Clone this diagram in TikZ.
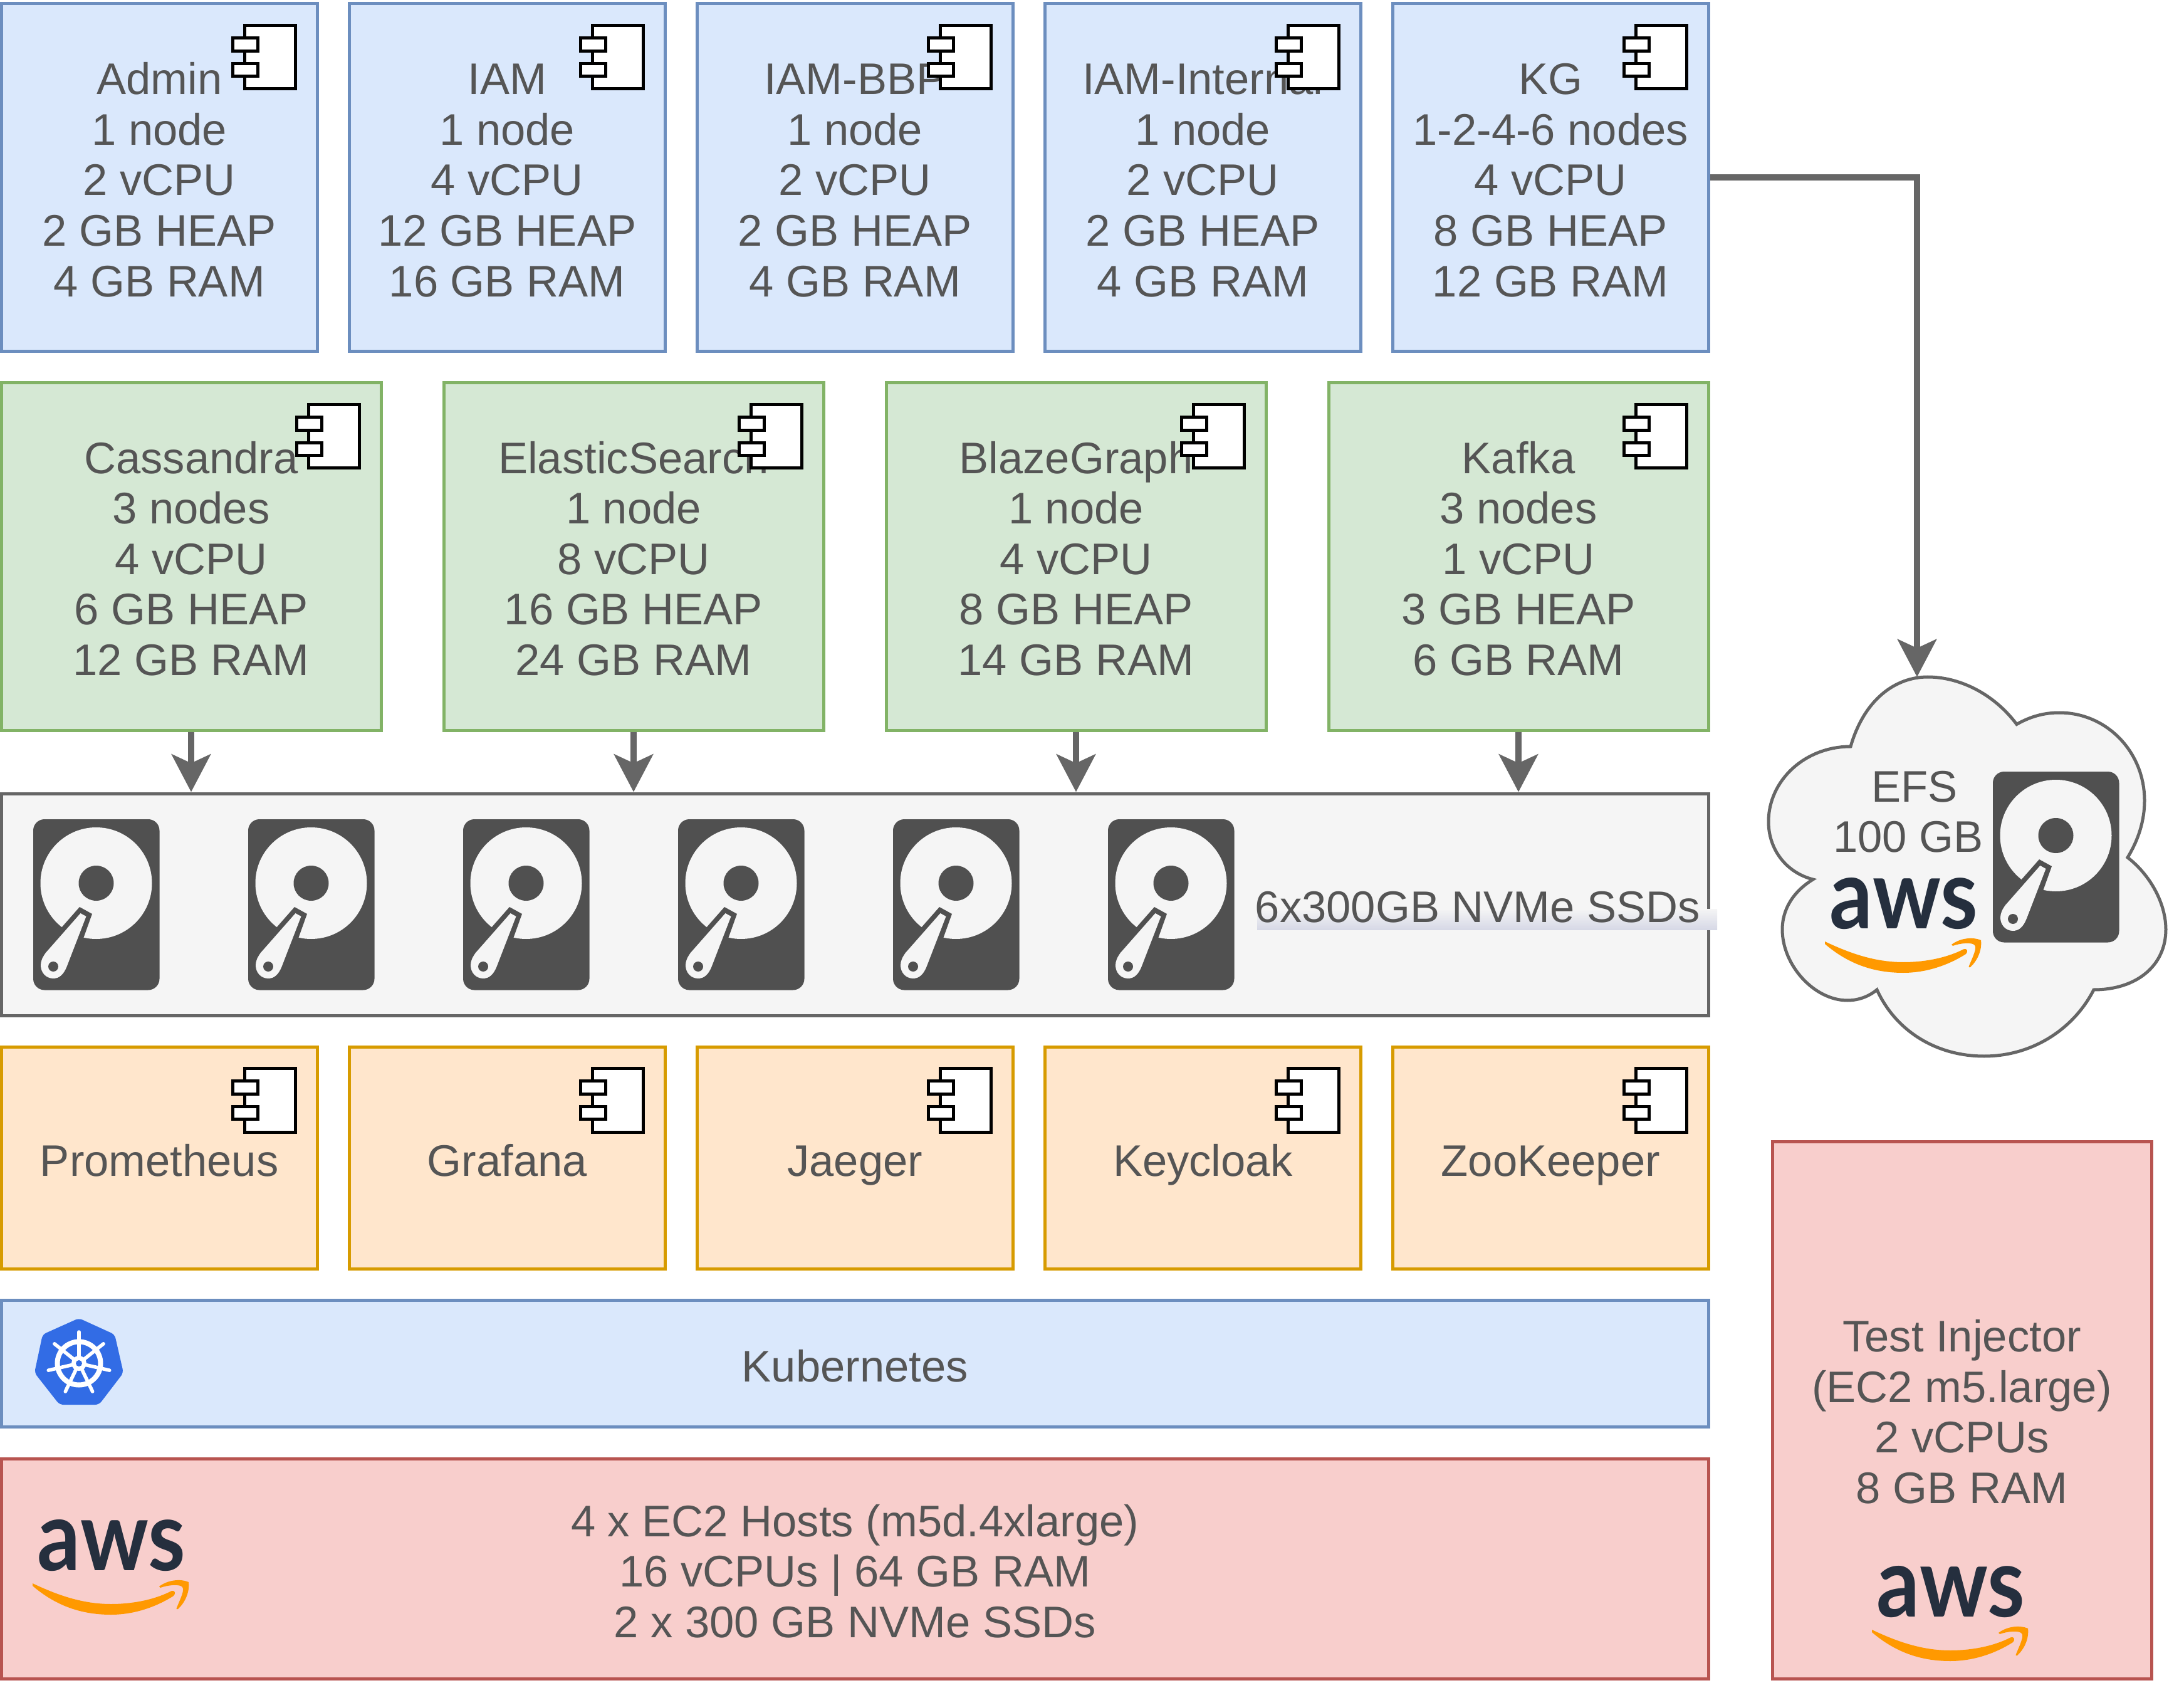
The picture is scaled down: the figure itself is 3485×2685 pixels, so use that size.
\documentclass[tikz,border=0pt]{standalone}
\usepackage{fontspec}
\usepackage{tikz}
\usetikzlibrary{arrows.meta}
\setmainfont{Liberation Sans}
\newfontfamily\awsfont{Lato}

\definecolor{labelgray}{HTML}{555555}
\definecolor{linegray}{HTML}{666666}
\definecolor{backgray}{HTML}{F5F5F5}
\definecolor{diskgray}{HTML}{505050}
\definecolor{glowgray}{HTML}{D6D8E6}
\definecolor{backblue}{HTML}{DAE8FC}
\definecolor{lineblue}{HTML}{6C8EBF}
\definecolor{backgreen}{HTML}{D5E8D4}
\definecolor{linegreen}{HTML}{82B366}
\definecolor{backorange}{HTML}{FFE6CC}
\definecolor{lineorange}{HTML}{D79B00}
\definecolor{backred}{HTML}{F8CECC}
\definecolor{linered}{HTML}{B85450}
\definecolor{awsnavy}{HTML}{252F3E}
\definecolor{awsorange}{HTML}{FF9900}
\definecolor{kubeblue}{HTML}{326CE5}

\tikzset{
    box/.style={shape=rectangle,draw,line width=1.25pt,text=labelgray,align=center,text depth=0pt,
        font=\fontsize{17.65}{20.15}\selectfont},
    service/.style={box,draw=lineblue,fill=backblue,minimum width=125.9pt,minimum height=138.75pt,text height=94.8pt},
    datastore/.style={box,draw=linegreen,fill=backgreen,minimum width=151.5pt,minimum height=138.5pt,text height=94.8pt},
    support/.style={box,draw=lineorange,fill=backorange,minimum width=125.9pt,minimum height=88.5pt,
        text height=16pt,text depth=1.5pt},
    wide/.style={box,minimum width=680.9pt},
    plain/.style={text=labelgray,inner sep=0pt,align=center,font=\fontsize{17.65}{20.15}\selectfont},
    flow/.style={-{Stealth[length=15pt,width=15.5pt,inset=3.5pt]},draw=linegray,line width=2.5pt},
    component/.pic={
        \draw[black,fill=white,line width=1.25pt] (-118,37) rectangle (-37.5,138.5);
        \draw[black,fill=white,line width=1.25pt] (-137.5,57) rectangle (-97.5,78);
        \draw[black,fill=white,line width=1.25pt] (-137.5,98) rectangle (-97.5,118);
    },
    hdd/.pic={
        \fill[diskgray,rounded corners=4.5pt] (0,0) rectangle (201.5,272.5);
        \fill[backgray] (100.5,102) circle (89);
        \fill[diskgray] (100.5,102) circle (28);
        \fill[diskgray] (74,140) -- (94,151) -- (70,218) -- (30,190) -- cycle;
        \fill[backgray] (75.5,150) -- (84.5,155) -- (54,234) .. controls (49,247) and (42,254) .. (32,254)
            .. controls (20,254) and (12,244) .. (12,233) .. controls (12,226) and (15,220) .. (20,213) -- cycle;
        \fill[diskgray] (32,235) circle (8);
    },
    awslogo/.pic={
        \node[anchor=base west,inner sep=0pt,xscale=.875,text=awsnavy,font=\fontsize{38.8}{40}\awsfont\bfseries] (-word) at (-3,0) {aws};
        \fill[awsorange] (-10,21) .. controls (30,40) and (70,54) .. (115,54) .. controls (150,54) and (185,47) .. (212,33)
            .. controls (217,32) and (219,37) .. (215,41) .. controls (185,60) and (150,71) .. (115,71)
            .. controls (65,71) and (25,55) .. (-10,25) -- cycle;
        \fill[awsorange] (192,26) .. controls (205,16) and (225,13) .. (239,19) .. controls (241,35) and (233,52) .. (222,62)
            .. controls (219,63) and (219,61) .. (220,60) .. controls (226,45) and (234,30) .. (228,26)
            .. controls (222,22) and (205,24) .. (194,28) -- cycle;
    },
    kube/.pic={
        \fill[kubeblue,rounded corners=1.5pt] (0,-72) -- (57,-46) -- (71,15) -- (32,66) -- (-31,66) -- (-71,15) -- (-58,-46) -- cycle;
        \draw[white,line width=2pt] (0,0) circle (34.5);
        \draw[white,line width=1.4pt,line cap=round] (0,0) -- (-90:50);
        \draw[white,line width=1.4pt,line cap=round] (0,0) -- (-38.57:50);
        \draw[white,line width=1.4pt,line cap=round] (0,0) -- (12.86:50);
        \draw[white,line width=1.4pt,line cap=round] (0,0) -- (64.29:50);
        \draw[white,line width=1.4pt,line cap=round] (0,0) -- (115.71:50);
        \draw[white,line width=1.4pt,line cap=round] (0,0) -- (167.14:50);
        \draw[white,line width=1.4pt,line cap=round] (0,0) -- (218.57:50);
        \fill[white] (0,0) circle (12);
        \fill[kubeblue] (0,0) circle (5);
    }
}

\begin{document}
\begin{tikzpicture}[x=.25pt,y=-.25pt]
        \useasboundingbox (0,0) rectangle (3485,2685);

        \node[service] (Admin)    at (254.25,283.5)  {Admin\\1 node\\2 vCPU\\2 GB HEAP\\4 GB RAM};
        \node[service] (IAM)      at (809.25,283.5)  {IAM\\1 node\\4 vCPU\\12 GB HEAP\\16 GB RAM};
        \node[service] (IAMBBP)   at (1364.25,283.5) {IAM-BBP\\1 node\\2 vCPU\\2 GB HEAP\\4 GB RAM};
        \node[service] (Internal) at (1919.25,283.5) {IAM-Internal\\1 node\\2 vCPU\\2 GB HEAP\\4 GB RAM};
        \node[service] (KG)       at (2474.25,283.5) {KG\\1-2-4-6 nodes\\4 vCPU\\8 GB HEAP\\12 GB RAM};

        \node[datastore] (Cassandra) at (305,888)  {Cassandra\\3 nodes\\4 vCPU\\6 GB HEAP\\12 GB RAM};
        \node[datastore] (Elastic)   at (1011,888) {ElasticSearch\\1 node\\8 vCPU\\16 GB HEAP\\24 GB RAM};
        \node[datastore] (Blaze)     at (1717,888) {BlazeGraph\\1 node\\4 vCPU\\8 GB HEAP\\14 GB RAM};
        \node[datastore] (Kafka)     at (2423,888) {Kafka\\3 nodes\\1 vCPU\\3 GB HEAP\\6 GB RAM};

        \node[wide,draw=linegray,fill=backgray,minimum height=88.5pt] (SSD) at (1364.25,1443) {};
        \shade[top color=backgray,bottom color=glowgray] (2006,1450) rectangle (2740,1483);
        \node[plain,anchor=base] (SSDText) at (2358,1471.7) {6x300GB NVMe SSDs};

        \node[support] (Prometheus) at (254.25,1847)  {Prometheus};
        \node[support] (Grafana)    at (809.25,1847)  {Grafana};
        \node[support] (Jaeger)     at (1364.25,1847) {Jaeger};
        \node[support] (Keycloak)   at (1919.25,1847) {Keycloak};
        \node[support] (ZooKeeper)  at (2474.25,1847) {ZooKeeper};

        \node[wide,draw=lineblue,fill=backblue,minimum height=50.5pt,text height=14.6pt] (Kubernetes) at (1364.25,2175) {Kubernetes};
        \node[wide,draw=linered,fill=backred,minimum height=87.75pt,text height=55pt] (Hosts) at (1364.25,2502.5) {4 x EC2 Hosts (m5d.4xlarge)\\16 vCPUs | 64 GB RAM\\2 x 300 GB NVMe SSDs};
        \node[box,draw=linered,fill=backred,minimum width=151.25pt,minimum height=214.25pt,text height=74.4pt] (Injector) at (3130.5,2249.5) {Test Injector\\(EC2 m5.large)\\2 vCPUs\\8 GB RAM};

        \pic at (Admin.north east) {component};
        \pic at (IAM.north east) {component};
        \pic at (IAMBBP.north east) {component};
        \pic at (Internal.north east) {component};
        \pic at (KG.north east) {component};
        \pic at (Cassandra.north east) {component};
        \pic at (Elastic.north east) {component};
        \pic at (Blaze.north east) {component};
        \pic at (Kafka.north east) {component};
        \pic at (Prometheus.north east) {component};
        \pic at (Grafana.north east) {component};
        \pic at (Jaeger.north east) {component};
        \pic at (Keycloak.north east) {component};
        \pic at (ZooKeeper.north east) {component};

        \pic at (53,1307) {hdd};
        \pic at (396,1307) {hdd};
        \pic at (739,1307) {hdd};
        \pic at (1082,1307) {hdd};
        \pic at (1425,1307) {hdd};
        \pic at (1768,1307) {hdd};

        \pic at (126,2175) {kube};
        \pic (HostsLogo) at (62,2505) {awslogo};
        \pic (InjectorLogo) at (2997,2579) {awslogo};

        \draw[draw=linegray,fill=backgray,line width=1.25pt] (2953,1191)
            .. controls (2975,1115) and (3025,1080) .. (3076,1080)
            .. controls (3125,1080) and (3180,1105) .. (3218,1155.5)
            .. controls (3240,1143) and (3262,1137) .. (3286,1137)
            .. controls (3362,1137) and (3422,1200) .. (3422,1277)
            .. controls (3422,1310) and (3412,1340) .. (3395,1368)
            .. controls (3430,1395) and (3456,1440) .. (3456,1483)
            .. controls (3456,1540) and (3410,1579) .. (3341,1579)
            .. controls (3310,1640) and (3245,1685) .. (3166,1685)
            .. controls (3090,1685) and (3025,1645) .. (2995,1579)
            .. controls (2982,1590) and (2965,1596) .. (2948,1596)
            .. controls (2895,1596) and (2844,1540) .. (2844,1483)
            .. controls (2844,1450) and (2862,1422) .. (2893,1403)
            .. controls (2850,1392) and (2822,1355) .. (2822,1311)
            .. controls (2822,1245) and (2880,1191) .. (2953,1191) -- cycle;
        \coordinate (CloudTop) at (3059,1080);
        \node[plain] (EFS) at (3055,1295) {EFS\\100 GB\kern5pt};
        \pic (EFSLogo) at (2922,1481) {awslogo};
        \pic at (3180,1231) {hdd};

        \draw[flow] (Cassandra.south) -- (Cassandra.south |- SSD.north);
        \draw[flow] (Elastic.south) -- (Elastic.south |- SSD.north);
        \draw[flow] (Blaze.south) -- (Blaze.south |- SSD.north);
        \draw[flow] (Kafka.south) -- (Kafka.south |- SSD.north);
        \draw[flow] (KG.east) -| (CloudTop);
    \end{tikzpicture}
\end{document}
